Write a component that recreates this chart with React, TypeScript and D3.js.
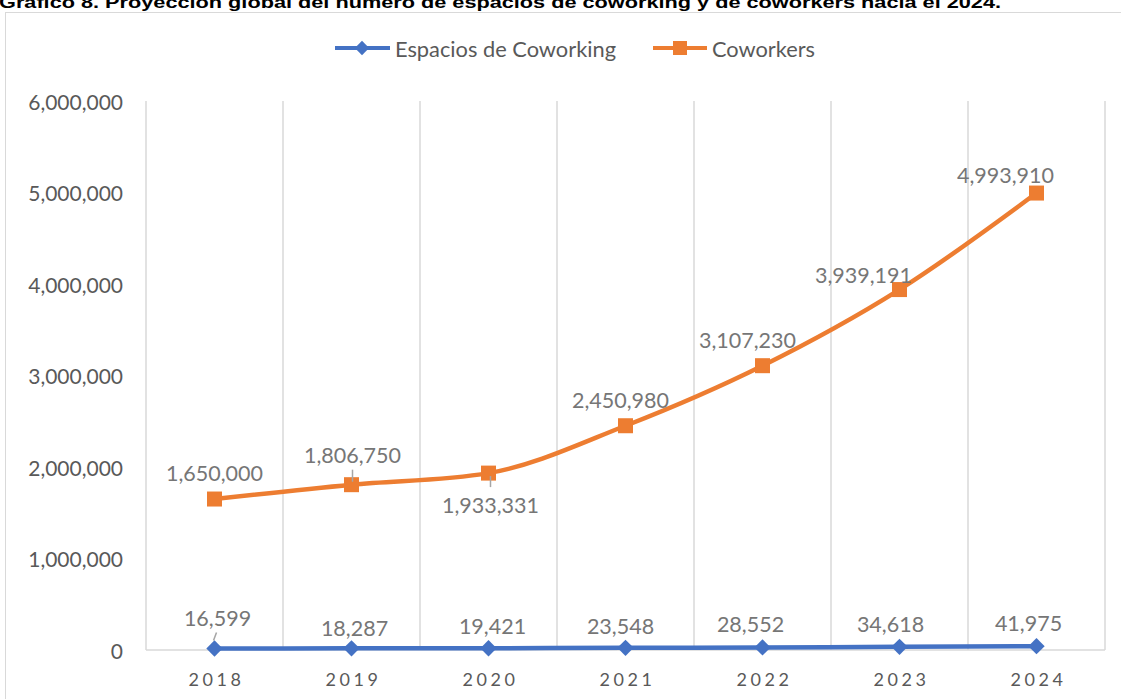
import React from "react";
import * as d3 from "d3";

const years = ["2018", "2019", "2020", "2021", "2022", "2023", "2024"];
const espacios = [16599, 18287, 19421, 23548, 28552, 34618, 41975];
const coworkers = [1650000, 1806750, 1933331, 2450980, 3107230, 3939191, 4993910];
const yTicks = [0, 1000000, 2000000, 3000000, 4000000, 5000000, 6000000];
const titleText =
  "Gráfico 8. Proyección global del número de espacios de coworking y de coworkers hacia el 2024.";
const seriesNames = ["Espacios de Coworking", "Coworkers"];

// label offsets (dx, dy) relative to each point
const espLabelOffsets = [
  [3, -30], [3, -20], [4, -22], [-5, -22], [-12, -23], [-9, -23], [-8, -23],
];
const cowLabelOffsets = [
  [0, -26], [1, -30], [2, 32], [-5, -26], [-15, -26], [-36, -15], [-31, -18],
];

const W = 1121;
const H = 699;
const BLUE = "#4472C4";
const ORANGE = "#ED7D31";
const GRID = "#d9d9d9";
const FONT = "Lato, 'Open Sans', sans-serif";

export default function App() {
  const x = d3.scaleBand<string>().domain(years).range([146, 1105]);
  const y = d3.scaleLinear().domain([0, 6000000]).range([650, 101]);
  const cx = (i: number) => (x(years[i]) as number) + x.bandwidth() / 2;
  const fmt = d3.format(",");

  const line = d3
    .line<number>()
    .x((_, i) => cx(i))
    .y((d) => y(d))
    .curve(d3.curveMonotoneX);

  const boundaries = years.map((yr) => x(yr) as number).concat([1105]);

  return (
    <svg
      width={W}
      height={H}
      style={{ position: "absolute", left: 0, top: 0, background: "#fff" }}
    >
      <rect x={0} y={0} width={W} height={H} fill="#fff" />
      <text
        x={-1}
        y={8}
        fontFamily="'Liberation Sans', Arial, sans-serif"
        fontWeight="bold"
        fontSize={17}
        fill="#000"
        textLength={1002}
        lengthAdjust="spacingAndGlyphs"
      >
        {titleText}
      </text>
      <rect x={5.5} y={12.5} width={W + 10} height={H} fill="none" stroke={GRID} strokeWidth={1} />

      {/* legend */}
      <g fontFamily={FONT} fontSize={21} fill="#595959">
        <line x1={335} x2={390} y1={48} y2={48} stroke={BLUE} strokeWidth={4} />
        <path d={d3.symbol(d3.symbolDiamond2, 130)() as string} transform="translate(362,48)" fill={BLUE} />
        <text x={395} y={48} dominantBaseline="central" textLength={221} lengthAdjust="spacingAndGlyphs">{seriesNames[0]}</text>
        <line x1={653} x2={707} y1={48} y2={48} stroke={ORANGE} strokeWidth={4} />
        <rect x={673} y={41} width={14} height={14} fill={ORANGE} />
        <text x={712} y={48} dominantBaseline="central" textLength={103} lengthAdjust="spacingAndGlyphs">{seriesNames[1]}</text>
      </g>

      {/* grid */}
      {boundaries.map((bx, i) => (
        <line key={i} x1={bx} x2={bx} y1={101} y2={650} stroke={GRID} strokeWidth={1.5} />
      ))}
      <line x1={146} x2={1105} y1={y(0)} y2={y(0)} stroke={GRID} strokeWidth={1.5} />

      {/* y axis labels */}
      <g fontFamily={FONT} fontSize={21} fill="#595959" textAnchor="end">
        {yTicks.map((t) => (
          <text key={t} x={123} y={y(t)} dominantBaseline="central">
            {fmt(t)}
          </text>
        ))}
      </g>

      {/* x axis labels */}
      <g fontFamily={FONT} fontSize={18} fill="#595959" textAnchor="middle" letterSpacing={3.5}>
        {years.map((yr, i) => (
          <text key={yr} x={cx(i) + 2} y={679} dominantBaseline="central">
            {yr}
          </text>
        ))}
      </g>

      {/* lines */}
      <path d={line(coworkers) as string} fill="none" stroke={ORANGE} strokeWidth={4.5} strokeLinejoin="round" />
      <path d={line(espacios) as string} fill="none" stroke={BLUE} strokeWidth={4.5} strokeLinejoin="round" />

      {coworkers.map((v, i) => (
        <rect key={i} x={cx(i) - 7.5} y={y(v) - 7.5} width={15} height={15} fill={ORANGE} />
      ))}
      {espacios.map((v, i) => (
        <path
          key={i}
          d={d3.symbol(d3.symbolDiamond2, 170)() as string}
          transform={`translate(${cx(i)},${y(v)})`}
          fill={BLUE}
        />
      ))}

      {/* leader lines */}
      <g stroke="#a6a6a6" strokeWidth={1.5}>
        <line x1={cx(0) + 2} x2={cx(0) - 1} y1={y(espacios[0]) - 16} y2={y(espacios[0]) - 8} />
        <line x1={cx(1) + 1} x2={cx(1) + 1} y1={y(coworkers[1]) - 15} y2={y(coworkers[1]) - 3} />
        <line x1={cx(2) + 2} x2={cx(2) + 2} y1={y(coworkers[2]) + 3} y2={y(coworkers[2]) + 14} />
      </g>

      {/* data labels */}
      <g fontFamily={FONT} fontSize={21.5} fill="#767676" textAnchor="middle">
        {coworkers.map((v, i) => (
          <text
            key={"c" + i}
            x={cx(i) + cowLabelOffsets[i][0]}
            y={y(v) + cowLabelOffsets[i][1]}
            dominantBaseline="central"
          >
            {fmt(v)}
          </text>
        ))}
        {espacios.map((v, i) => (
          <text
            key={"e" + i}
            x={cx(i) + espLabelOffsets[i][0]}
            y={y(v) + espLabelOffsets[i][1]}
            dominantBaseline="central"
          >
            {fmt(v)}
          </text>
        ))}
      </g>
    </svg>
  );
}
